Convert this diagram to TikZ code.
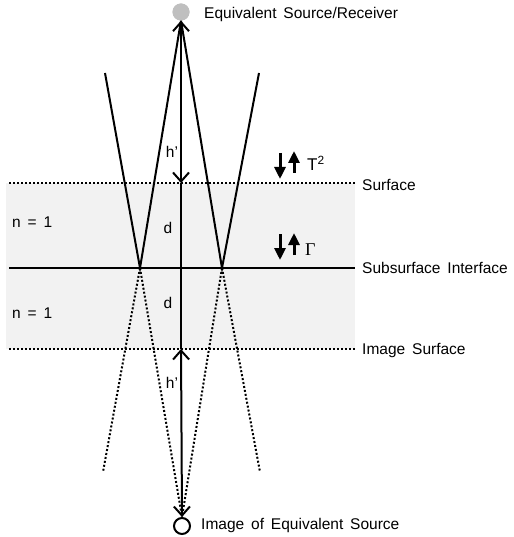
\documentclass[tikz,border=0pt]{standalone}
\usepackage{fontspec}
\setmainfont[WordSpace=1.6]{Liberation Sans}
\newfontfamily\seriffont{Liberation Serif}
\usetikzlibrary{arrows.meta}
\definecolor{bandgray}{HTML}{F2F2F2}
\definecolor{srcgray}{HTML}{BFBFBF}
\begin{document}
\begin{tikzpicture}[x=1pt,y=-1pt,
  lbl/.style={font=\fontsize{15.5}{18}\selectfont, inner sep=0pt, anchor=west},
  clbl/.style={font=\fontsize{15.5}{18}\selectfont, inner sep=0pt},
  ray/.style={line width=2pt},
  dotray/.style={line width=2pt, dash pattern=on 2pt off 2pt},
  harrow/.style={line width=2pt, {Straight Barb[length=9pt,width=16pt]}-{Straight Barb[length=9pt,width=16pt]}},
  fatarrow/.style={line width=3pt, -{Triangle[length=12pt,width=11pt]}},
  srcnode/.style={circle, fill=srcgray, minimum size=17pt, inner sep=0pt},
  imgnode/.style={circle, draw, line width=2pt, fill=white, minimum size=16pt, inner sep=0pt},
]
\useasboundingbox (0,0) rectangle (513,537);
% band
\fill[bandgray] (6,183) rectangle (355,349);
% coordinates
\coordinate (sL) at (9,183);  \coordinate (sR) at (355,183);
\coordinate (iL) at (9,268);  \coordinate (iR) at (355,268);
\coordinate (mL) at (9,349);  \coordinate (mR) at (355,349);
\coordinate (pL) at (140,268); \coordinate (pR) at (222,268);
\coordinate (tL) at (105,73);  \coordinate (tR) at (259,73);
\coordinate (bL) at (103,472); \coordinate (bR) at (260,472);
\coordinate (cS) at (181,183); \coordinate (cM) at (181,349);
% surfaces
\draw[dotray] (sL) -- (sR);
\draw[ray] (iL) -- (iR);
\draw[dotray] (mL) -- (mR);
% nodes
\node[srcnode] (src) at (181,12) {};
\node[imgnode] (img) at (182,526) {};
% rays
\draw[ray] (src.south) -- (pL) -- (tL);
\draw[ray] (src.south) -- (pR) -- (tR);
\draw[dotray] (pL) -- (bL);
\draw[dotray] (pL) -- (img.north);
\draw[dotray] (pR) -- (img.north);
\draw[dotray] (pR) -- (bR);
% vertical
\draw[harrow] (src.south) -- (cS);
\draw[ray] (cS) -- (cM);
\draw[harrow] (cM) -- (img.north);
\node[srcnode] at (src) {};
% labels
\node[lbl] (tsrc) at (204,14) {Equivalent Source/Receiver};
\node[lbl] (timg) at (201,525) {Image of Equivalent Source};
\node[lbl] (tsurf) at (362,185) {Surface};
\node[lbl] (tint) at (362,268) {Subsurface Interface};
\node[lbl] (tims) at (362,350) {Image Surface};
\node[lbl] (n1) at (12,222) {n = 1};
\node[lbl] (n2) at (12,313) {n = 1};
\node[clbl] (h1) at (172,152) {h’};
\node[clbl] (d1) at (168,228) {d};
\node[clbl] (d2) at (168,303) {d};
\node[clbl] (h2) at (172,383) {h’};
% T^2 and Gamma arrows
\draw[fatarrow] (280,153) -- (280,179);
\draw[fatarrow] (294,173) -- (294,151);
\node[lbl, font=\fontsize{17}{20}\selectfont] (tt) at (307,163) {T\textsuperscript{2}};
\draw[fatarrow] (280,234) -- (280,260);
\draw[fatarrow] (294,255) -- (294,233);
\node[lbl, font=\fontsize{18}{20}\selectfont\seriffont] (gam) at (305,250) {Γ};
\end{tikzpicture}
\end{document}
